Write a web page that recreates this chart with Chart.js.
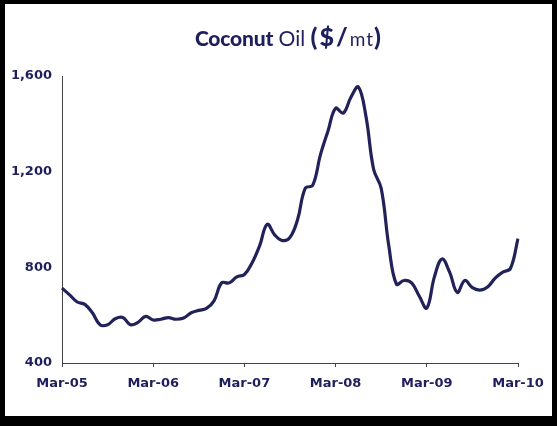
<!DOCTYPE html>
<html>
<head>
<meta charset="utf-8">
<script src="https://cdn.jsdelivr.net/npm/chart.js@4/dist/chart.umd.min.js"></script>
<style>
  html, body { margin: 0; padding: 0; background: #fff; }
  #wrap { position: relative; width: 557px; height: 426px; overflow: hidden; }
  #frame { position: absolute; left: 0; top: 0; width: 557px; height: 426px; box-sizing: border-box;
           border-style: solid; border-color: #000; border-width: 4px 5px 10px 5px; pointer-events: none; z-index: 2; }
  #title { position: absolute; left: 0; top: 21px; width: 578px; text-align: center; color: #1e1f5c;
           font-family: Lato, "Open Sans", sans-serif; font-size: 21px; white-space: nowrap; z-index: 1; }
  #title .b { font-weight: 900; letter-spacing: -0.2px; }
  #title .r { font-weight: 400; }
  #title .p { font-weight: 900; font-size: 25px; letter-spacing: 2px; }
  #title .s { font-weight: 400; font-size: 19px; letter-spacing: 1px; }
  canvas { position: absolute; left: 0; top: 0; }
</style>
</head>
<body>
<div id="wrap">
  <canvas id="c" width="557" height="426"></canvas>
  <div id="title"><span class="b">Coconut</span> <span class="r">Oil</span> <span class="p">($/</span><span class="s">mt</span><span class="p">)</span></div>
  <div id="frame"></div>
</div>
<script>
// ---- data ----
const monthNames = ["Mar","Apr","May","Jun","Jul","Aug","Sep","Oct","Nov","Dec","Jan","Feb"];
const startYear = 5;           // Mar-05
const monthCount = 61;         // Mar-05 .. Mar-10
const yTicks = [400, 800, 1200, 1600];
const xTickLabels = ["Mar-05", "Mar-06", "Mar-07", "Mar-08", "Mar-09", "Mar-10"];
const prices = [
  713, 685, 655, 645, 610, 560, 560, 585, 590, 560, 570, 595,
  580, 583, 590, 583, 588, 610, 620, 628, 660, 735, 735, 760,
  770, 818, 890, 980, 935, 912, 925, 1000, 1130, 1144, 1270, 1370,
  1465, 1445, 1510, 1554, 1430, 1210, 1130, 890, 730, 745, 735, 680,
  630, 760, 835, 780, 695, 745, 715, 705, 718, 755, 780, 795,
  920
];

// categories (one per month)
const categories = [];
for (let i = 0; i < monthCount; i++) {
  const m = i % 12;
  const yr = startYear + Math.floor((i + 2) / 12);
  categories.push(monthNames[m] + "-" + String(yr).padStart(2, "0"));
}

const navy = "#1e1f5c";
const tickFont = { family: "'DejaVu Sans', Verdana, sans-serif", size: 13, weight: "bold" };

new Chart(document.getElementById("c"), {
  type: "line",
  data: {
    labels: categories,
    datasets: [{
      data: prices,
      borderColor: "#22225a",
      borderWidth: 3.2,
      pointRadius: 0,
      tension: 0.4,
      fill: false
    }]
  },
  options: {
    responsive: false,
    animation: false,
    events: [],
    layout: { padding: { left: 0, right: 39, top: 76, bottom: 30 } },
    plugins: { legend: { display: false }, tooltip: { enabled: false }, title: { display: false } },
    scales: {
      x: {
        type: "category",
        offset: false,
        grid: { display: true, drawOnChartArea: false, drawTicks: true, tickLength: 4, color: "#444", lineWidth: 1 },
        border: { display: true, color: "#444", width: 1 },
        ticks: {
          autoSkip: false, maxRotation: 0, minRotation: 0, padding: 9,
          color: navy, font: tickFont,
          callback: function (v, i) {
            const lab = categories[i];
            return xTickLabels.includes(lab) ? lab : null;
          }
        },
        afterFit: function (s) { s.height = 33; }
      },
      y: {
        min: yTicks[0], max: yTicks[yTicks.length - 1],
        grid: { display: false, drawTicks: false },
        border: { display: true, color: "#444", width: 1 },
        afterBuildTicks: function (s) { s.ticks = yTicks.map(v => ({ value: v })); },
        ticks: {
          padding: 10, color: navy, font: tickFont,
          callback: v => v.toLocaleString("en-US")
        },
        afterFit: function (s) { s.width = 62; }
      }
    }
  }
});
</script>
</body>
</html>
